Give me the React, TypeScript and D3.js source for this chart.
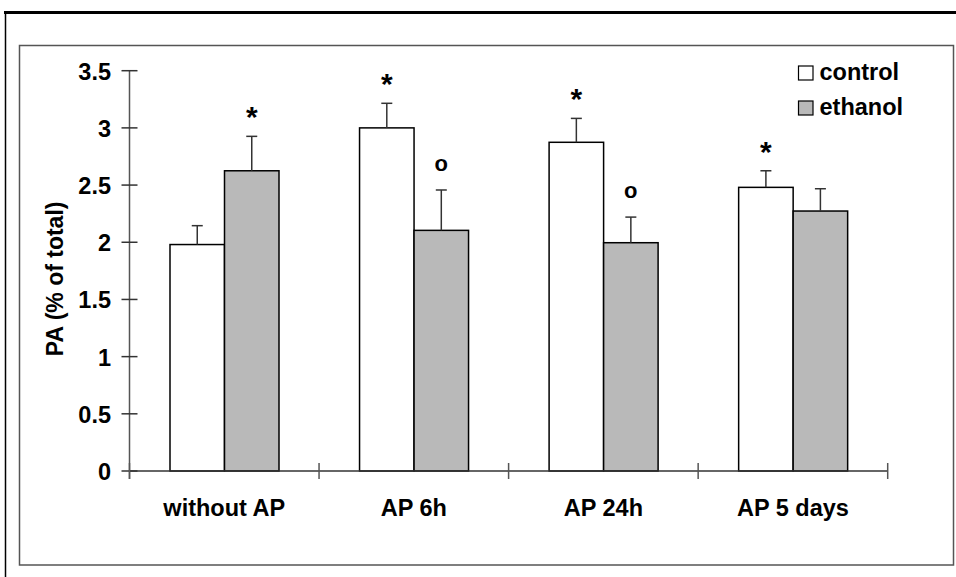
import React from "react";
import * as d3 from "d3";

const categories = ["without AP", "AP 6h", "AP 24h", "AP 5 days"];
const seriesNames = ["control", "ethanol"];
const controlValues = [1.98, 3.0, 2.874, 2.48];
const ethanolValues = [2.625, 2.104, 1.996, 2.273];
const controlErrTop = [2.145, 3.215, 3.083, 2.625];
const ethanolErrTop = [2.926, 2.457, 2.22, 2.468];
const controlMarks = ["", "*", "*", "*"];
const ethanolMarks = ["*", "o", "o", ""];
const yTicks = [0, 0.5, 1, 1.5, 2, 2.5, 3, 3.5];
const yLabel = "PA (% of total)";

const fills: Record<string, string> = { control: "#ffffff", ethanol: "#b9b9b9" };
const FONT = "'Liberation Sans', Arial, sans-serif";

export default function App() {
  const W = 956, H = 577;
  const x0 = 129.5, x1 = 887.7, yBase = 471, yTop = 70.7;
  const y = d3.scaleLinear().domain([0, 3.5]).range([yBase, yTop]);
  const x = d3.scaleBand().domain(categories).range([x0, x1]).padding(0);
  const xs = d3.scaleBand().domain(seriesNames).range([40.5, 149.5]).padding(0);

  const data = categories.map((c, i) => [
    { s: "control", v: controlValues[i], e: controlErrTop[i], m: controlMarks[i], c },
    { s: "ethanol", v: ethanolValues[i], e: ethanolErrTop[i], m: ethanolMarks[i], c },
  ]);
  const tickXs = [...categories.map((c) => x(c)!), x1];

  return (
    <svg width={W} height={H} style={{ position: "absolute", left: 0, top: 0, background: "#fff" }} fontFamily={FONT}>
      <rect x={0} y={0} width={W} height={H} fill="#fff" />
      {/* outer borders */}
      <line x1={4} x2={W} y1={12.5} y2={12.5} stroke="#000" strokeWidth={3} />
      <line x1={5.5} x2={5.5} y1={11} y2={H} stroke="#000" strokeWidth={1.5} />
      <rect x={19.5} y={45.5} width={934} height={519.5} fill="none" stroke="#555" strokeWidth={1.5} />

      {/* bars */}
      {data.map((grp, i) => (
        <g key={i} transform={`translate(${x(grp[0].c)},0)`}>
          {grp.map((d) => {
            const bx = xs(d.s)!;
            const bw = xs.bandwidth();
            const cx = bx + bw / 2;
            return (
              <g key={d.s}>
                <rect x={bx} y={y(d.v)} width={bw} height={yBase - y(d.v)} fill={fills[d.s]} stroke="#000" strokeWidth={1.5} />
                <line x1={cx} x2={cx} y1={y(d.v)} y2={y(d.e)} stroke="#333" strokeWidth={1.5} />
                <line x1={cx - 5.5} x2={cx + 5.5} y1={y(d.e)} y2={y(d.e)} stroke="#333" strokeWidth={1.5} />
                {d.m === "*" && (
                  <text x={cx} y={y(d.e) - 9} textAnchor="middle" fontSize={30} fontWeight="bold">*</text>
                )}
                {d.m === "o" && (
                  <text x={cx} y={y(d.e) - 19} textAnchor="middle" fontSize={22} fontWeight="bold">o</text>
                )}
              </g>
            );
          })}
        </g>
      ))}

      {/* y axis */}
      <line x1={x0} x2={x0} y1={yTop} y2={yBase + 8} stroke="#555" strokeWidth={1.5} />
      {yTicks.map((t) => (
        <g key={t}>
          <line x1={x0 - 8} x2={x0 + 8} y1={y(t)} y2={y(t)} stroke="#333" strokeWidth={1.5} />
          <text x={111} y={y(t) + 9} textAnchor="end" fontSize={23.5} fontWeight="bold">{String(t)}</text>
        </g>
      ))}
      {/* x axis */}
      <line x1={x0} x2={x1} y1={yBase} y2={yBase} stroke="#333" strokeWidth={1.5} />
      {tickXs.map((tx, i) => (
        <line key={i} x1={tx} x2={tx} y1={yBase - 8} y2={yBase + 8} stroke="#555" strokeWidth={1.5} />
      ))}
      {categories.map((c) => (
        <text key={c} x={x(c)! + x.bandwidth() / 2} y={516} textAnchor="middle" fontSize={23.5} fontWeight="bold">{c}</text>
      ))}

      {/* y label */}
      <text transform={`translate(63,${(yBase + yTop) / 2 + 8}) rotate(-90)`} textAnchor="middle" fontSize={23} fontWeight="bold">{yLabel}</text>

      {/* legend */}
      {seriesNames.map((s, i) => (
        <g key={s} transform={`translate(798.5,${66 + i * 35})`}>
          <rect x={0} y={0} width={14.5} height={14} fill={fills[s]} stroke="#000" strokeWidth={1.2} />
          <text x={21} y={14} fontSize={23.5} fontWeight="bold">{s}</text>
        </g>
      ))}
    </svg>
  );
}
